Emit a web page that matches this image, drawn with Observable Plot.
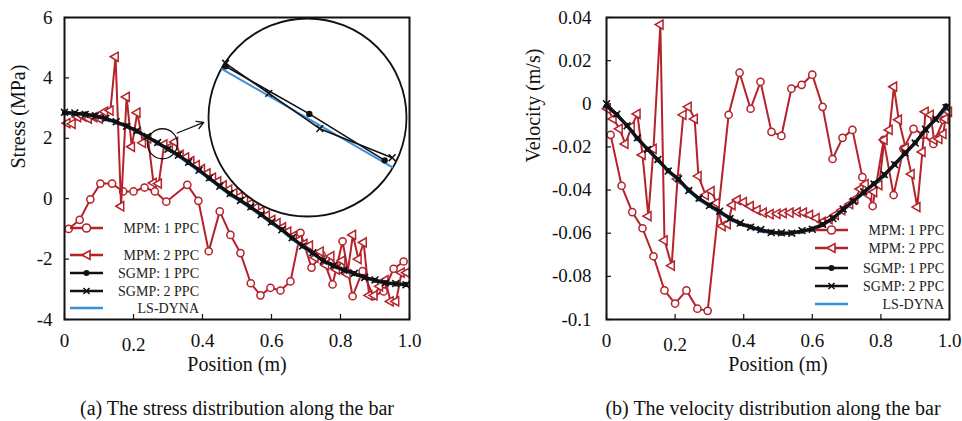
<!DOCTYPE html>
<html><head><meta charset="utf-8">
<script src="https://cdn.jsdelivr.net/npm/d3@7"></script>
<script src="https://cdn.jsdelivr.net/npm/@observablehq/plot@0.6"></script>
<style>
body{margin:0;background:#fff;}
#wrap{position:relative;width:962px;height:421px;overflow:hidden;font-family:"Liberation Serif","Times New Roman",serif;background:#fff;}
.abs{position:absolute;}
.cap{position:absolute;top:396px;font-size:20px;line-height:24px;white-space:nowrap;color:#111;transform:translateX(-50%);}
</style></head><body><div id="wrap"></div>
<script>
// ---------- tick labels / categories ----------
const xTicks = [0, 0.2, 0.4, 0.6, 0.8, 1.0];
const stressTicks = [-4, -2, 0, 2, 4, 6];
const velTicks = [-0.1, -0.08, -0.06, -0.04, -0.02, 0, 0.02, 0.04];
const legendLabels = ["MPM: 1 PPC", "MPM: 2 PPC", "SGMP: 1 PPC", "SGMP: 2 PPC", "LS-DYNA"];
const captions = ["(a) The stress distribution along the bar", "(b) The velocity distribution along the bar"];

// ---------- SGMP / LS-DYNA positions ----------
const sgmpX = [0,0.03,0.06,0.09,0.12,0.15,0.18,0.21,0.24,0.27,0.30,0.33,0.36,0.39,0.42,0.45,0.48,0.51,0.54,0.57,0.60,0.63,0.66,0.69,0.72,0.75,0.78,0.81,0.84,0.87,0.90,0.93,0.96,0.99];

// ---------- stress (MPa) ----------
const stressSGMP1 = [2.85,2.83,2.80,2.74,2.65,2.54,2.41,2.24,2.05,1.85,1.65,1.45,1.20,0.95,0.68,0.42,0.16,-0.05,-0.28,-0.52,-0.78,-1.02,-1.30,-1.56,-1.80,-2.05,-2.22,-2.36,-2.48,-2.60,-2.70,-2.78,-2.82,-2.84];
const stressSGMP2 = [2.86,2.84,2.79,2.75,2.66,2.55,2.40,2.25,2.06,1.86,1.64,1.44,1.21,0.94,0.69,0.41,0.17,-0.06,-0.27,-0.53,-0.77,-1.03,-1.29,-1.57,-1.79,-2.06,-2.21,-2.37,-2.47,-2.61,-2.69,-2.79,-2.81,-2.85];
const stressLS = [2.82,2.80,2.77,2.71,2.62,2.51,2.38,2.21,2.02,1.82,1.62,1.41,1.16,0.91,0.64,0.38,0.12,-0.09,-0.32,-0.56,-0.82,-1.06,-1.34,-1.60,-1.84,-2.08,-2.25,-2.39,-2.51,-2.63,-2.73,-2.81,-2.85,-2.87];

const mpm1X = [0.012,0.044,0.075,0.104,0.138,0.17,0.2,0.232,0.262,0.295,0.356,0.388,0.418,0.45,0.481,0.51,0.54,0.568,0.597,0.626,0.655,0.684,0.716,0.745,0.777,0.806,0.835,0.864,0.895,0.925,0.954,0.983];
const stressMPM1 = [-1.0,-0.7,-0.02,0.5,0.5,0.24,0.24,0.37,0.24,-0.1,0.46,-0.07,-1.74,-0.42,-1.2,-1.8,-2.8,-3.2,-2.95,-3.04,-2.74,-1.13,-2.28,-1.85,-2.84,-1.41,-3.23,-2.4,-3.23,-3.07,-2.32,-2.08];

const mpm2X = [0.008,0.023,0.039,0.055,0.070,0.086,0.102,0.117,0.133,0.148,0.164,0.180,0.195,0.211,0.227,0.242,0.258,0.273,0.289,0.305,0.320,0.336,0.352,0.367,0.383,0.398,0.414,0.430,0.445,0.461,0.477,0.492,0.508,0.523,0.539,0.555,0.570,0.586,0.602,0.617,0.633,0.648,0.664,0.680,0.695,0.711,0.727,0.742,0.758,0.773,0.789,0.805,0.820,0.836,0.852,0.867,0.883,0.898,0.914,0.930,0.945,0.961,0.977,0.992];
const stressMPM2 = [2.50,2.48,2.70,2.72,2.65,2.70,2.65,2.88,2.92,4.70,-0.25,3.37,1.72,2.85,1.85,2.00,0.52,0.50,1.80,1.70,1.88,1.45,1.37,1.24,1.11,0.98,0.84,0.70,0.57,0.44,0.30,0.18,0.07,-0.05,-0.17,-0.30,-0.42,-0.56,-0.70,-0.81,-0.95,-1.09,-1.23,-1.37,-1.50,-1.55,-1.95,-1.75,-2.20,-1.90,-2.35,-2.05,-2.50,-1.20,-2.00,-1.45,-3.20,-3.20,-2.90,-2.70,-3.40,-3.40,-2.45,-2.45];

// ---------- velocity (m/s) ----------
const velSGMP1 = [-0.001,-0.005,-0.010,-0.016,-0.021,-0.026,-0.031,-0.035,-0.040,-0.044,-0.047,-0.050,-0.053,-0.0555,-0.057,-0.0585,-0.0595,-0.060,-0.0598,-0.059,-0.058,-0.056,-0.053,-0.049,-0.045,-0.041,-0.037,-0.033,-0.028,-0.023,-0.018,-0.012,-0.007,-0.001];
const velSGMP2 = [0,-0.0048,-0.0102,-0.0158,-0.0212,-0.0258,-0.0312,-0.0348,-0.0402,-0.0438,-0.0472,-0.0498,-0.0532,-0.0553,-0.0572,-0.0583,-0.0597,-0.0598,-0.060,-0.0588,-0.0582,-0.0558,-0.0532,-0.0488,-0.0452,-0.0408,-0.0372,-0.0328,-0.0282,-0.0228,-0.0182,-0.0118,-0.0072,-0.0018];
const velLS = [-0.0008,-0.0055,-0.0105,-0.0165,-0.0215,-0.0265,-0.0315,-0.0356,-0.0406,-0.0446,-0.0476,-0.0506,-0.0535,-0.056,-0.0575,-0.059,-0.060,-0.0604,-0.0602,-0.0595,-0.0585,-0.0565,-0.0535,-0.0495,-0.0455,-0.0415,-0.0375,-0.0335,-0.0285,-0.0235,-0.0185,-0.0125,-0.0075,-0.0025];

const velMPM1X = [0.012,0.044,0.075,0.105,0.137,0.169,0.2,0.233,0.265,0.295,0.356,0.388,0.42,0.449,0.481,0.51,0.539,0.569,0.6,0.63,0.659,0.688,0.717,0.746,0.776,0.808,0.837,0.866,0.895,0.924,0.953,0.983];
const velMPM1 = [-0.0144,-0.038,-0.0502,-0.0577,-0.0707,-0.0865,-0.0926,-0.0865,-0.095,-0.096,-0.0051,0.0144,-0.0023,0.0102,-0.013,-0.0149,0.007,0.0088,0.0135,-0.0014,-0.0256,-0.0158,-0.0121,-0.034,-0.0474,-0.0167,-0.0423,-0.0209,-0.0116,-0.0144,-0.0186,-0.0074];

const velMPM2X = [0.003,0.020,0.038,0.055,0.073,0.090,0.105,0.122,0.137,0.157,0.169,0.190,0.207,0.224,0.239,0.257,0.268,0.289,0.306,0.321,0.338,0.353,0.367,0.382,0.400,0.420,0.440,0.458,0.478,0.498,0.516,0.536,0.557,0.575,0.593,0.612,0.630,0.650,0.668,0.687,0.710,0.725,0.740,0.755,0.765,0.780,0.795,0.810,0.825,0.838,0.852,0.872,0.889,0.906,0.921,0.930,0.945,0.955,0.970,0.982,0.988,0.998];
const velMPM2 = [-0.0023,-0.0070,-0.0116,-0.0186,-0.0107,-0.0047,-0.0237,-0.0521,-0.0209,0.0367,-0.0633,-0.0750,-0.0349,-0.0051,-0.0014,-0.0070,-0.0335,-0.0423,-0.0405,-0.0460,-0.0567,-0.0558,-0.0470,-0.0446,-0.0456,-0.0475,-0.0493,-0.0505,-0.0512,-0.0510,-0.0507,-0.0505,-0.0502,-0.0505,-0.0515,-0.0530,-0.0548,-0.0535,-0.0515,-0.0493,-0.0465,-0.0442,-0.0395,-0.0372,-0.0423,-0.0409,-0.0377,-0.0167,-0.0121,0.0079,-0.0074,-0.0205,-0.0326,-0.0479,-0.0223,-0.0037,-0.0051,-0.0167,-0.0163,-0.0140,-0.0070,-0.0037];

// ---------- inset (zoom of the circled region) ----------
const zoomCenterX = [0.284], zoomCenterY = [1.82];
const insetXDomain = [0.2405, 0.3275], insetYDomain = [1.323, 2.317];
const insetSGMP1X = [0.248, 0.2848, 0.3179], insetSGMP1 = [2.077, 1.838, 1.605];
const insetSGMP2X = [0.248, 0.267, 0.2894, 0.3212], insetSGMP2 = [2.092, 1.941, 1.764, 1.618];
const insetLSX = [0.2465, 0.3212], insetLS = [2.063, 1.571];
const arrowFrom = [0.3267, 2.175], arrowTo = [0.4038, 2.527];

// ---------- styling ----------
const RED = "#b5222a", BLUE = "#3a8fdb", BLACK = "#111111";
const FONT = "Liberation Serif";
const rows = (xs, ys) => xs.map((x, i) => ({x, y: ys[i]}));
const fmtX = d => d === 0 ? "0" : d.toFixed(1);
const fmtV = d => String(+d.toFixed(2));

function seriesMarks(m1, m2, s1, s2, ls) {
  return [
    Plot.line(m1, {x: "x", y: "y", stroke: RED, strokeWidth: 2}),
    Plot.dot(m1, {x: "x", y: "y", r: 3.6, stroke: RED, fill: "white", strokeWidth: 1.5}),
    Plot.line(m2, {x: "x", y: "y", stroke: RED, strokeWidth: 2}),
    Plot.dot(m2, {x: "x", y: "y", symbol: "triangle", rotate: -90, r: 3.4, stroke: RED, fill: "white", strokeWidth: 1.5}),
    Plot.line(ls, {x: "x", y: "y", stroke: BLUE, strokeWidth: 2.5}),
    Plot.line(s1, {x: "x", y: "y", stroke: BLACK, strokeWidth: 3.2}),
    Plot.dot(s1, {x: "x", y: "y", r: 2.6, fill: BLACK}),
    Plot.line(s2, {x: "x", y: "y", stroke: BLACK, strokeWidth: 2.5}),
    Plot.dot(s2, {x: "x", y: "y", symbol: "times", r: 3.2, stroke: BLACK, strokeWidth: 1.6})
  ];
}

function axes(yTicks, yFmt, yPad) {
  return [
    Plot.axisX(xTicks.filter(d => d !== 0.2), {tickSize: -5, tickPadding: 19, tickFormat: fmtX, label: null, strokeWidth: 1.2}),
    Plot.axisX([0.2], {tickSize: -5, tickPadding: 23, tickFormat: fmtX, label: null, strokeWidth: 1.2}),
    Plot.axisY(yTicks, {tickSize: -5, tickPadding: yPad, tickFormat: yFmt, label: null, strokeWidth: 1.2})
  ];
}

const wrap = document.getElementById("wrap");
function place(el, left, top) {
  el.classList.add("abs");
  el.style.left = left + "px"; el.style.top = top + "px";
  wrap.appendChild(el);
}

// ---------- left panel: stress ----------
const leftPlot = Plot.plot({
  width: 481, height: 385,
  marginLeft: 64, marginRight: 72, marginTop: 17, marginBottom: 66,
  style: {fontFamily: FONT, fontSize: "19px", background: "transparent", color: "#111", overflow: "visible"},
  x: {domain: [0, 1]},
  y: {domain: [-4, 6]},
  marks: [
    ...axes(stressTicks, d => String(d), 17),
    Plot.text(["Stress (MPa)"], {frameAnchor: "left", dx: -46, rotate: -90, text: d => d, fontSize: 20, fill: "#111"}),
    Plot.text(["Position (m)"], {frameAnchor: "bottom", dy: 51, text: d => d, fontSize: 20, fill: "#111"}),
    ...seriesMarks(rows(mpm1X, stressMPM1), rows(mpm2X, stressMPM2), rows(sgmpX, stressSGMP1), rows(sgmpX, stressSGMP2), rows(sgmpX, stressLS)),
    Plot.dot(rows(zoomCenterX, zoomCenterY), {x: "x", y: "y", r: 15, stroke: BLACK, strokeWidth: 1.3, fill: "none"}),
    Plot.arrow([{x1: arrowFrom[0], y1: arrowFrom[1], x2: arrowTo[0], y2: arrowTo[1]}], {x1: "x1", y1: "y1", x2: "x2", y2: "y2", stroke: BLACK, strokeWidth: 1.3, headLength: 9}),
    Plot.frame({stroke: BLACK, strokeWidth: 2})
  ]
});
place(leftPlot, 0, 0);

// ---------- inset ----------
const insetPlot = Plot.plot({
  width: 202, height: 202, margin: 2,
  style: {background: "transparent", overflow: "visible"},
  x: {domain: insetXDomain, axis: null},
  y: {domain: insetYDomain, axis: null},
  marks: [
    Plot.dot(rows(zoomCenterX, zoomCenterY), {x: "x", y: "y", r: 99, fill: "white", stroke: BLACK, strokeWidth: 1.8}),
    Plot.line(rows(insetLSX, insetLS), {x: "x", y: "y", stroke: BLUE, strokeWidth: 2}),
    Plot.line(rows(insetSGMP1X, insetSGMP1), {x: "x", y: "y", stroke: BLACK, strokeWidth: 1.6}),
    Plot.dot(rows(insetSGMP1X, insetSGMP1), {x: "x", y: "y", r: 3.2, fill: BLACK}),
    Plot.line(rows(insetSGMP2X, insetSGMP2), {x: "x", y: "y", stroke: BLACK, strokeWidth: 1.6}),
    Plot.dot(rows(insetSGMP2X, insetSGMP2), {x: "x", y: "y", symbol: "times", r: 3.2, stroke: BLACK, strokeWidth: 1.5})
  ]
});
place(insetPlot, 206, 16);

// ---------- right panel: velocity ----------
const rightPlot = Plot.plot({
  width: 481, height: 385,
  marginLeft: 125, marginRight: 13, marginTop: 17, marginBottom: 66,
  style: {fontFamily: FONT, fontSize: "19px", background: "transparent", color: "#111", overflow: "visible"},
  x: {domain: [0, 1]},
  y: {domain: [-0.1, 0.04]},
  marks: [
    ...axes(velTicks, fmtV, 20),
    Plot.text(["Velocity (m/s)"], {frameAnchor: "left", dx: -73, dy: -6, rotate: -90, text: d => d, fontSize: 20, fill: "#111"}),
    Plot.text(["Position (m)"], {frameAnchor: "bottom", dy: 51, text: d => d, fontSize: 20, fill: "#111"}),
    ...seriesMarks(rows(velMPM1X, velMPM1), rows(velMPM2X, velMPM2), rows(sgmpX, velSGMP1), rows(sgmpX, velSGMP2), rows(sgmpX, velLS)),
    Plot.frame({stroke: BLACK, strokeWidth: 2})
  ]
});
place(rightPlot, 481, 0);

// ---------- legends ----------
const ov = d3.create("svg").attr("width", 962).attr("height", 421).style("pointer-events", "none");
function legend(x1, x2, textRight, ys) {
  const g = ov.append("g").attr("font-family", FONT).attr("font-size", 14).attr("fill", "#222");
  const cx = (x1 + x2) / 2;
  const colors = [RED, RED, BLACK, BLACK, BLUE];
  legendLabels.forEach((lab, i) => {
    const y = ys[i];
    g.append("line").attr("x1", x1).attr("x2", x2).attr("y1", y).attr("y2", y).attr("stroke", colors[i]).attr("stroke-width", 2.5);
    if (i === 0) g.append("circle").attr("cx", cx).attr("cy", y).attr("r", 4).attr("fill", "white").attr("stroke", RED).attr("stroke-width", 1.6);
    if (i === 1) g.append("path").attr("d", `M${cx-4.5},${y}L${cx+3.5},${y-4.5}L${cx+3.5},${y+4.5}Z`).attr("fill", "white").attr("stroke", RED).attr("stroke-width", 1.6);
    if (i === 2) g.append("circle").attr("cx", cx).attr("cy", y).attr("r", 3).attr("fill", BLACK);
    if (i === 3) g.append("path").attr("d", `M${cx-3},${y-3}L${cx+3},${y+3}M${cx-3},${y+3}L${cx+3},${y-3}`).attr("stroke", BLACK).attr("stroke-width", 1.6);
    g.append("text").attr("x", textRight).attr("y", y).attr("dy", "0.35em").attr("text-anchor", "end").text(lab);
  });
}
legend(70, 103, 199, [228, 255, 273, 291, 308]);
legend(815, 848, 944, [230, 248, 268, 286, 304]);
place(ov.node(), 0, 0);

// ---------- captions ----------
[[captions[0], 237], [captions[1], 773]].forEach(([t, cx]) => {
  const d = document.createElement("div");
  d.className = "cap"; d.textContent = t; d.style.left = cx + "px";
  wrap.appendChild(d);
});
</script>
</body></html>
